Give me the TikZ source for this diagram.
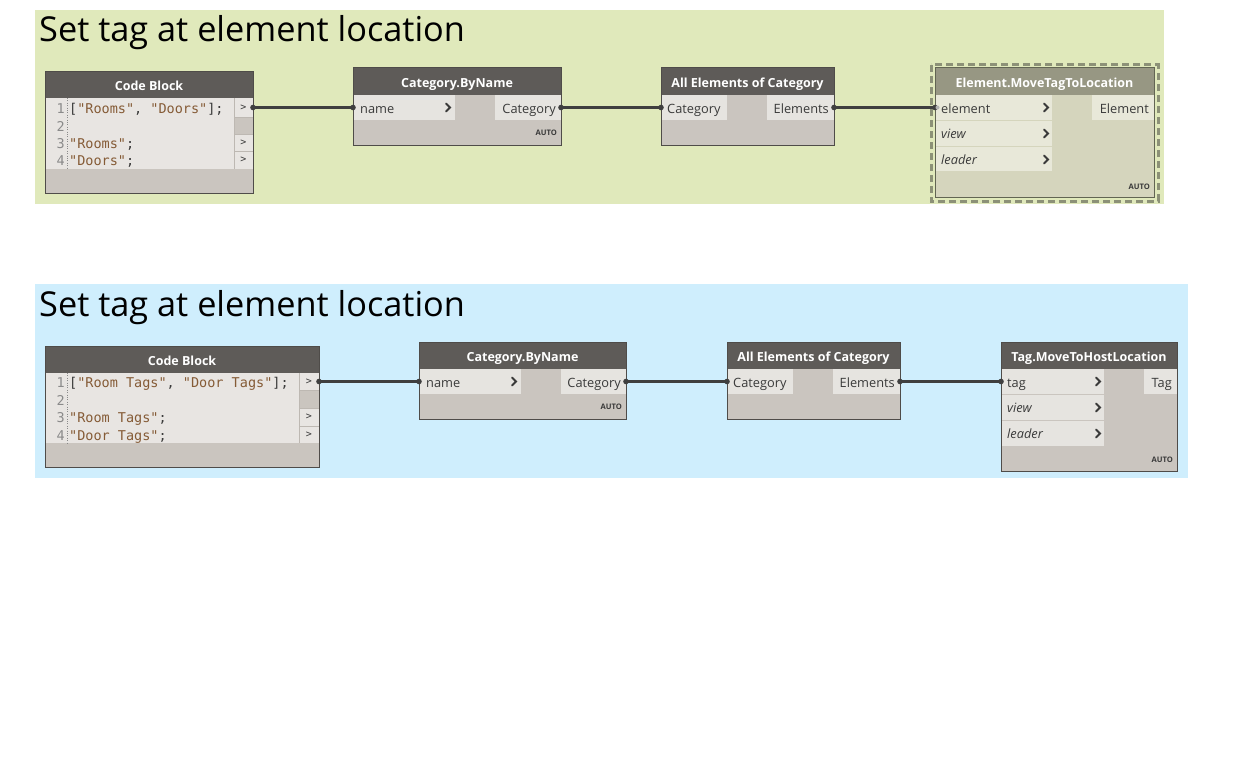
\documentclass[tikz,border=0pt]{standalone}
\usepackage{fontspec}
\setmainfont{Open Sans}
\setmonofont{DejaVu Sans Mono}
\definecolor{grpgreen}{HTML}{E0E9BB}
\definecolor{grpblue}{HTML}{CFEEFD}
\definecolor{hdrc}{HTML}{5E5B58}
\definecolor{bodyc}{HTML}{CAC5BF}
\definecolor{portc}{HTML}{E6E4E0}
\definecolor{codec}{HTML}{E8E5E2}
\definecolor{bordc}{HTML}{4F4C49}
\definecolor{selhdr}{HTML}{979783}
\definecolor{selbody}{HTML}{D5D5BD}
\definecolor{selport}{HTML}{E8E8D9}
\definecolor{selbord}{HTML}{8C9177}
\definecolor{wirec}{HTML}{3F3F3F}
\definecolor{txtc}{HTML}{3A3A3A}
\definecolor{strc}{HTML}{855B36}
\definecolor{sepc}{HTML}{BDB8B2}
\definecolor{numc}{HTML}{8A8A8A}
\newcommand\boxat[6]{\node[#1,anchor=north west,minimum width=#5pt,minimum height=#6pt,inner sep=0pt,outer sep=0pt] (#2) at (#3,#4) {};}
\newcommand\cs[1]{{\color{strc}#1}}
\newcommand\cp[1]{{\color{txtc}#1}}
\tikzset{
  nodebody/.style={fill=bodyc},
  selbodyst/.style={fill=selbody},
  hdrbox/.style={fill=hdrc},
  selhdrbox/.style={fill=selhdr},
  portbox/.style={fill=portc},
  selportbox/.style={fill=selport},
  codebox/.style={fill=codec},
  grayport/.style={fill=bodyc},
  frame/.style={draw=bordc,line width=1pt},
  hdrtext/.style={text=white,font=\bfseries\fontsize{12.5}{14}\selectfont,inner sep=0pt,anchor=base},
  porttext/.style={text=txtc,font=\fontsize{12.8}{14}\selectfont,inner sep=0pt},
  portital/.style={text=txtc,font=\itshape\fontsize{12.8}{14}\selectfont,inner sep=0pt,anchor=base west},
  autotext/.style={text=txtc,font=\bfseries\fontsize{7.6}{8}\selectfont,inner sep=0pt,anchor=east},
  wire/.style={line width=3.4pt,draw=wirec},
  wdot/.style={fill=wirec},
  chev/.style={line width=1.8pt,draw=txtc,line cap=round},
  codetext/.style={font=\ttfamily\fontsize{13.5}{15}\selectfont,inner sep=0pt,anchor=base west},
  lineno/.style={font=\ttfamily\fontsize{13.5}{15}\selectfont,text=numc,anchor=base east,inner sep=0pt},
  cbport/.style={font=\ttfamily\fontsize{10}{12}\selectfont,text=txtc,inner sep=0pt},
  titletext/.style={font=\fontsize{34.3}{38}\selectfont,text=black,inner sep=0pt,anchor=base west},
}
\newcommand\chevat[2]{\draw[chev] (#1-3,#2-4) -- (#1+1,#2) -- (#1-3,#2+4);}
\begin{document}
\begin{tikzpicture}[x=1pt,y=-1pt]
\useasboundingbox (0,0) rectangle (1242,776);
\fill[white] (0,0) rectangle (1242,776);

%================ GROUP 1 =================
\fill[grpgreen] (35,10) rectangle (1164,204);
\node[titletext] (t1) at (39,42) {Set tag at element location};

% Code Block 1
\boxat{nodebody}{cb1}{45}{72}{208}{121}
\boxat{hdrbox}{cb1h}{45}{72}{208}{26}
\boxat{codebox}{cb1c}{45}{98}{189}{71}
\boxat{codebox}{cb1o1}{234}{98}{19}{19}
\boxat{grayport}{cb1o2}{234}{117}{19}{17}
\boxat{codebox}{cb1o3}{234}{134}{19}{17}
\boxat{codebox}{cb1o4}{234}{151}{19}{18}
\draw[sepc] (234,98) -- (234,169) (234,117) -- (253,117) (234,134) -- (253,134) (234,151) -- (253,151);
\node[cbport] at (cb1o1) {>};
\node[cbport] at (cb1o3) {>};
\node[cbport] at (cb1o4) {>};
\draw[numc,dotted] (67,98) -- (67,169);
\node[lineno] at (65,113) {1};
\node[lineno] at (65,131) {2};
\node[lineno] at (65,148) {3};
\node[lineno] at (65,165.5) {4};
\node[codetext] at (69,113) {\cp{[}\cs{"Rooms"}\cp{, }\cs{"Doors"}\cp{];}};
\node[codetext] at (69,148) {\cs{"Rooms"}\cp{;}};
\node[codetext] at (69,165.5) {\cs{"Doors"}\cp{;}};
\node[hdrtext] at (149,91) {Code Block};
\draw[frame] (cb1.north west) rectangle (cb1.south east);

% Category.ByName 1
\boxat{nodebody}{cat1}{353}{68}{208}{77}
\boxat{hdrbox}{cat1h}{353}{68}{208}{27}
\boxat{portbox}{cat1i}{353}{95}{102}{25}
\boxat{portbox}{cat1o}{495}{95}{66}{25}
\node[hdrtext] at (457,87) {Category.ByName};
\node[porttext,anchor=base west] at (360,113) {name};
\chevat{449}{107.5}
\node[porttext,anchor=base east] at (556,113) {Category};
\node[autotext] at (557,133) {AUTO};
\draw[frame] (cat1.north west) rectangle (cat1.south east);

% All Elements of Category 1
\boxat{nodebody}{ae1}{661}{68}{173}{77}
\boxat{hdrbox}{ae1h}{661}{68}{173}{27}
\boxat{portbox}{ae1i}{661}{95}{66}{25}
\boxat{portbox}{ae1o}{767}{95}{67}{25}
\node[hdrtext] at (747.5,87) {All Elements of Category};
\node[porttext,anchor=base west] at (667,113) {Category};
\node[porttext,anchor=base east] at (829,113) {Elements};
\draw[frame] (ae1.north west) rectangle (ae1.south east);

% Element.MoveTagToLocation (selected)
\draw[selbord,line width=3pt,dash pattern=on 7pt off 4pt] (931,65) rectangle (1158,201);
\boxat{selbodyst}{mt1}{935}{68}{219}{129}
\boxat{selhdrbox}{mt1h}{935}{68}{219}{27}
\boxat{selportbox}{mt1i1}{935}{95}{117}{25}
\boxat{selportbox}{mt1i2}{935}{121}{117}{25}
\boxat{selportbox}{mt1i3}{935}{147}{117}{24}
\boxat{selportbox}{mt1o}{1092}{95}{62}{25}
\node[hdrtext] at (1044.5,87) {Element.MoveTagToLocation};
\node[porttext,anchor=base west] at (941,113) {element};
\node[portital] at (941,138.5) {view};
\node[portital] at (941,164.5) {leader};
\chevat{1047}{107.5}
\chevat{1047}{133.5}
\chevat{1047}{159.5}
\node[porttext,anchor=base east] at (1149,113) {Element};
\node[autotext] at (1150,187) {AUTO};
\draw[frame,draw=selbord!70!black] (mt1.north west) rectangle (mt1.south east);

% wires 1
\draw[wire] (cb1o1.east) -- (cat1i.west);
\draw[wire] (cat1o.east) -- (ae1i.west);
\draw[wire] (ae1o.east) -- (mt1i1.west);
\foreach \p in {cb1o1.east,cat1i.west,cat1o.east,ae1i.west,ae1o.east,mt1i1.west}
  \fill[wdot] (\p) circle[radius=2.8pt];
\fill[gray!60] ([xshift=2.5pt]mt1i1.west) circle[radius=2pt];

%================ GROUP 2 =================
\fill[grpblue] (35,284) rectangle (1188,478);
\node[titletext] (t2) at (39,316) {Set tag at element location};

% Code Block 2
\boxat{nodebody}{cb2}{45}{346}{274}{121}
\boxat{hdrbox}{cb2h}{45}{346}{274}{27}
\boxat{codebox}{cb2c}{45}{373}{254}{70}
\boxat{codebox}{cb2o1}{299}{373}{20}{17}
\boxat{grayport}{cb2o2}{299}{390}{20}{18}
\boxat{codebox}{cb2o3}{299}{408}{20}{18}
\boxat{codebox}{cb2o4}{299}{426}{20}{17}
\draw[sepc] (299,373) -- (299,443) (299,390) -- (319,390) (299,408) -- (319,408) (299,426) -- (319,426);
\node[cbport] at (cb2o1) {>};
\node[cbport] at (cb2o3) {>};
\node[cbport] at (cb2o4) {>};
\draw[numc,dotted] (67,373) -- (67,443);
\node[lineno] at (65,387.5) {1};
\node[lineno] at (65,405) {2};
\node[lineno] at (65,422.5) {3};
\node[lineno] at (65,440) {4};
\node[codetext] at (69,387.5) {\cp{[}\cs{"Room Tags"}\cp{, }\cs{"Door Tags"}\cp{];}};
\node[codetext] at (69,422.5) {\cs{"Room Tags"}\cp{;}};
\node[codetext] at (69,440) {\cs{"Door Tags"}\cp{;}};
\node[hdrtext] at (182,365) {Code Block};
\draw[frame] (cb2.north west) rectangle (cb2.south east);

% Category.ByName 2
\boxat{nodebody}{cat2}{419}{342}{207}{77}
\boxat{hdrbox}{cat2h}{419}{342}{207}{27}
\boxat{portbox}{cat2i}{419}{369}{102}{25}
\boxat{portbox}{cat2o}{561}{369}{65}{25}
\node[hdrtext] at (522.5,361) {Category.ByName};
\node[porttext,anchor=base west] at (426,387) {name};
\chevat{515}{381.5}
\node[porttext,anchor=base east] at (621,387) {Category};
\node[autotext] at (622,407) {AUTO};
\draw[frame] (cat2.north west) rectangle (cat2.south east);

% All Elements of Category 2
\boxat{nodebody}{ae2}{727}{342}{173}{77}
\boxat{hdrbox}{ae2h}{727}{342}{173}{27}
\boxat{portbox}{ae2i}{727}{369}{66}{25}
\boxat{portbox}{ae2o}{833}{369}{67}{25}
\node[hdrtext] at (813.5,361) {All Elements of Category};
\node[porttext,anchor=base west] at (733,387) {Category};
\node[porttext,anchor=base east] at (895,387) {Elements};
\draw[frame] (ae2.north west) rectangle (ae2.south east);

% Tag.MoveToHostLocation
\boxat{nodebody}{tg2}{1001}{342}{176}{129}
\boxat{hdrbox}{tg2h}{1001}{342}{176}{27}
\boxat{portbox}{tg2i1}{1001}{369}{103}{25}
\boxat{portbox}{tg2i2}{1001}{395}{103}{25}
\boxat{portbox}{tg2i3}{1001}{421}{103}{25}
\boxat{portbox}{tg2o}{1144}{369}{33}{25}
\node[hdrtext] at (1089,361) {Tag.MoveToHostLocation};
\node[porttext,anchor=base west] at (1007,387) {tag};
\node[portital] at (1007,412.5) {view};
\node[portital] at (1007,438.5) {leader};
\chevat{1099}{381.5}
\chevat{1099}{407.5}
\chevat{1099}{433.5}
\node[porttext,anchor=base east] at (1172,387) {Tag};
\node[autotext] at (1173,460) {AUTO};
\draw[frame] (tg2.north west) rectangle (tg2.south east);

% wires 2
\draw[wire] (cb2o1.east) -- (cat2i.west);
\draw[wire] (cat2o.east) -- (ae2i.west);
\draw[wire] (ae2o.east) -- (tg2i1.west);
\foreach \p in {cb2o1.east,cat2i.west,cat2o.east,ae2i.west,ae2o.east,tg2i1.west}
  \fill[wdot] (\p) circle[radius=2.8pt];
\end{tikzpicture}
\end{document}
